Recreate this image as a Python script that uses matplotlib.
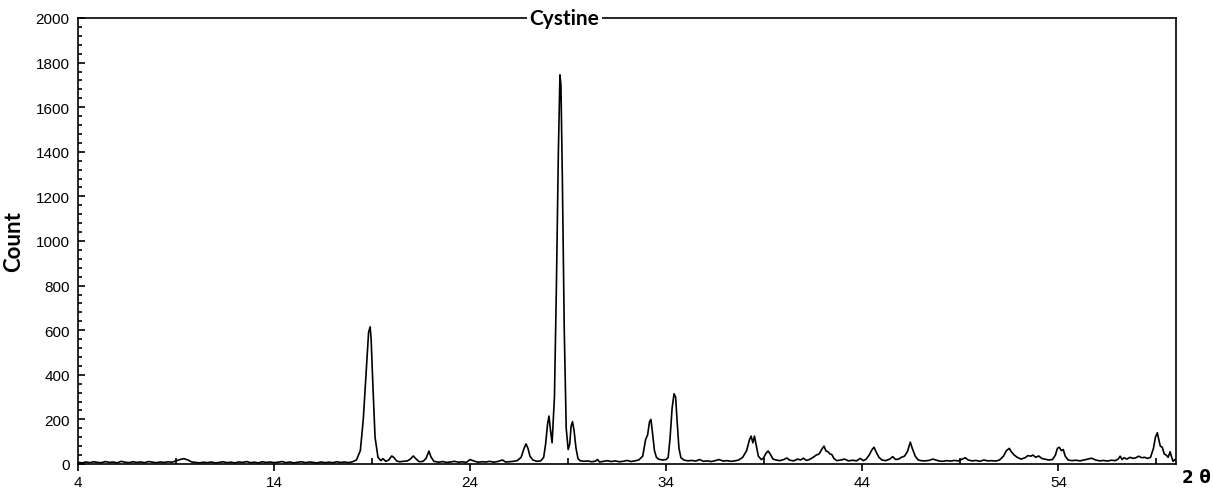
import matplotlib
matplotlib.use("Agg")
import matplotlib.pyplot as plt
from matplotlib.ticker import MultipleLocator, FixedLocator

# 2-theta positions and counts
two_theta = [
    4.0, 4.2, 4.4, 4.6, 4.8, 5.0, 5.2, 5.4, 5.6, 5.8, 6.0, 6.2, 6.4, 6.6, 6.8,
    7.0, 7.2, 7.4, 7.6, 7.8, 8.0, 8.2, 8.4, 8.6, 8.8, 9.0, 9.2, 9.4, 9.6, 9.8,
    10.0, 10.2, 10.4, 10.6, 10.8, 11.0, 11.2, 11.4, 11.6, 11.8, 12.0, 12.2, 12.4,
    12.6, 12.8, 13.0, 13.2, 13.4, 13.6, 13.8, 14.0, 14.2, 14.4, 14.6, 14.8, 15.0,
    15.2, 15.4, 15.6, 15.8, 16.0, 16.2, 16.4, 16.6, 16.8, 17.0, 17.2, 17.4, 17.6,
    17.8, 18.0, 18.2, 18.4, 18.55, 18.7, 18.82, 18.9, 18.95, 19.05, 19.15, 19.3,
    19.45, 19.55, 19.7, 19.85, 20.0, 20.1, 20.25, 20.4, 20.6, 20.8, 20.95, 21.1,
    21.25, 21.4, 21.6, 21.75, 21.9, 22.0, 22.15, 22.4, 22.6, 22.8, 23.0, 23.2,
    23.4, 23.6, 23.8, 24.0, 24.2, 24.4, 24.6, 24.8, 25.0, 25.2, 25.4, 25.65, 25.8,
    26.0, 26.2, 26.4, 26.6, 26.75, 26.85, 26.95, 27.05, 27.2, 27.4, 27.6, 27.75,
    27.85, 27.95, 28.02, 28.1, 28.18, 28.3, 28.4, 28.5, 28.58, 28.63, 28.7, 28.8,
    28.9, 29.0, 29.08, 29.15, 29.22, 29.3, 29.4, 29.5, 29.6, 29.8, 30.0, 30.2,
    30.4, 30.5, 30.6, 30.8, 31.0, 31.2, 31.4, 31.6, 31.8, 32.0, 32.2, 32.4, 32.6,
    32.8, 32.95, 33.05, 33.15, 33.22, 33.3, 33.4, 33.5, 33.6, 33.8, 34.0, 34.1,
    34.2, 34.3, 34.4, 34.48, 34.55, 34.65, 34.75, 34.9, 35.1, 35.3, 35.5, 35.7,
    35.9, 36.1, 36.3, 36.5, 36.7, 36.9, 37.1, 37.3, 37.5, 37.7, 37.9, 38.1, 38.25,
    38.33, 38.42, 38.5, 38.6, 38.7, 38.85, 38.95, 39.1, 39.2, 39.3, 39.45, 39.6,
    39.8, 40.0, 40.15, 40.3, 40.5, 40.7, 40.85, 41.0, 41.15, 41.3, 41.5, 41.65,
    41.8, 41.95, 42.05, 42.15, 42.25, 42.35, 42.45, 42.55, 42.7, 42.9, 43.1, 43.3,
    43.5, 43.7, 43.9, 44.05, 44.2, 44.35, 44.5, 44.6, 44.7, 44.85, 45.0, 45.2,
    45.4, 45.55, 45.7, 45.85, 46.0, 46.15, 46.3, 46.45, 46.55, 46.7, 46.85, 47.0,
    47.2, 47.4, 47.6, 47.75, 47.9, 48.1, 48.3, 48.5, 48.7, 48.9, 49.1, 49.25,
    49.4, 49.6, 49.8, 50.0, 50.2, 50.4, 50.6, 50.8, 51.0, 51.2, 51.35, 51.5,
    51.6, 51.75, 51.9, 52.1, 52.3, 52.45, 52.6, 52.7, 52.85, 53.0, 53.15, 53.3,
    53.5, 53.7, 53.85, 53.95, 54.05, 54.15, 54.25, 54.35, 54.5, 54.7, 54.9, 55.1,
    55.3, 55.5, 55.7, 55.9, 56.1, 56.3, 56.5, 56.7, 56.9, 57.05, 57.15, 57.25,
    57.35, 57.5, 57.65, 57.8, 57.95, 58.1, 58.25, 58.4, 58.55, 58.7, 58.85, 58.95,
    59.05, 59.12, 59.2, 59.3, 59.4, 59.5, 59.6, 59.7, 59.78, 59.85, 59.95,
]
counts = [
    8, 5, 9, 6, 10, 7, 6, 11, 7, 9, 5, 12, 8, 6, 10,
    7, 9, 6, 11, 8, 6, 9, 7, 10, 8, 14, 20, 24, 18, 9,
    7, 5, 8, 6, 9, 5, 7, 10, 6, 8, 5, 9, 7,
    11, 6, 8, 5, 10, 7, 9, 6, 8, 11, 6, 9, 5,
    8, 10, 6, 9, 7, 5, 9, 6, 8, 6, 10, 7, 9,
    6, 10, 18, 60, 200, 420, 590, 615, 560, 330, 120, 30,
    15, 24, 12, 18, 36, 30, 14, 10, 12, 14, 22, 36,
    22, 10, 12, 25, 58, 32, 12, 8, 11, 7, 9, 12,
    8, 10, 7, 20, 13, 8, 10, 9, 12, 8, 11, 18, 9,
    10, 12, 15, 30, 70, 90, 70, 35, 18, 12, 14, 30,
    90, 180, 215, 150, 95, 300, 800, 1400, 1745, 1700, 1300, 600,
    160, 65, 90, 170, 190, 150, 70, 25, 15, 12, 14, 10,
    13, 20, 9, 12, 15, 11, 14, 10, 12, 16, 11, 14, 18,
    35, 110, 130, 190, 200, 140, 60, 30, 22, 18, 20, 30,
    120, 250, 315, 300, 200, 70, 28, 18, 14, 16, 13, 20,
    12, 14, 11, 15, 20, 13, 15, 12, 14, 18, 30, 60, 110,
    125, 95, 125, 80, 35, 20, 25, 50, 58, 45, 22, 18,
    15, 20, 27, 17, 14, 22, 18, 26, 16, 20, 30, 40,
    45, 68, 80, 58, 55, 45, 42, 25, 15, 18, 22, 14,
    17, 14, 25, 15, 22, 40, 65, 75, 55, 30, 18, 15,
    22, 33, 20, 22, 30, 35, 55, 98, 70, 35, 18, 15,
    14, 16, 22, 18, 14, 12, 15, 13, 16, 14, 22, 28,
    18, 14, 16, 12, 18, 14, 15, 13, 18, 35, 60, 70,
    55, 40, 30, 22, 28, 38, 35, 40, 30, 36, 25, 22,
    18, 20, 40, 70, 75, 60, 65, 35, 18, 15, 17, 14,
    18, 22, 26, 18, 14, 16, 13, 17, 15, 22, 35, 20,
    28, 22, 30, 25, 28, 35, 28, 30, 25, 30, 70, 120,
    140, 110, 80, 75, 45, 40, 30, 55, 30, 12, 20,
]

x_ticks = [4, 14, 24, 34, 44, 54]
x_minor = [9, 19, 29, 39, 49, 59]

fig = plt.figure(figsize=(12.13, 4.89), dpi=100)
ax = fig.add_axes([78 / 1213, 1 - 465 / 489, 1098 / 1213, 446 / 489])

ax.plot(two_theta, counts, color="black", lw=1.2)

ax.set_xlim(4, 60)
ax.set_ylim(0, 2000)
ax.xaxis.set_major_locator(FixedLocator(x_ticks))
ax.xaxis.set_minor_locator(FixedLocator(x_minor))
ax.yaxis.set_major_locator(MultipleLocator(200))
ax.yaxis.set_minor_locator(MultipleLocator(40))

ax.tick_params(axis="x", which="major", direction="out", length=5, width=1.2,
               labelsize=11, pad=3)
ax.tick_params(axis="x", which="minor", direction="in", length=4, width=1.2)
ax.tick_params(axis="y", which="major", direction="in", length=5, width=1.2,
               labelsize=11, pad=6)
ax.tick_params(axis="y", which="minor", direction="in", length=3, width=1.2)
for lab in ax.get_xticklabels() + ax.get_yticklabels():
    lab.set_fontfamily("Liberation Sans")
for sp in ax.spines.values():
    sp.set_linewidth(1.2)

ax.text(0.443, 1.0, "Cystine", transform=ax.transAxes, ha="center",
        va="center", fontsize=15, fontweight="bold", family=["Lato", "DejaVu Sans"],
        bbox=dict(fc="white", ec="none", pad=2), clip_on=False, zorder=5)

ax.set_ylabel("Count", fontsize=16, fontweight="bold", family=["Lato", "DejaVu Sans"],
              labelpad=8)
fig.text(1196 / 1213, 1 - 478 / 489, "2 θ", ha="center", va="center",
         fontsize=12, fontweight="bold", family=["DejaVu Sans"])

fig.savefig("out.png", dpi=100)
